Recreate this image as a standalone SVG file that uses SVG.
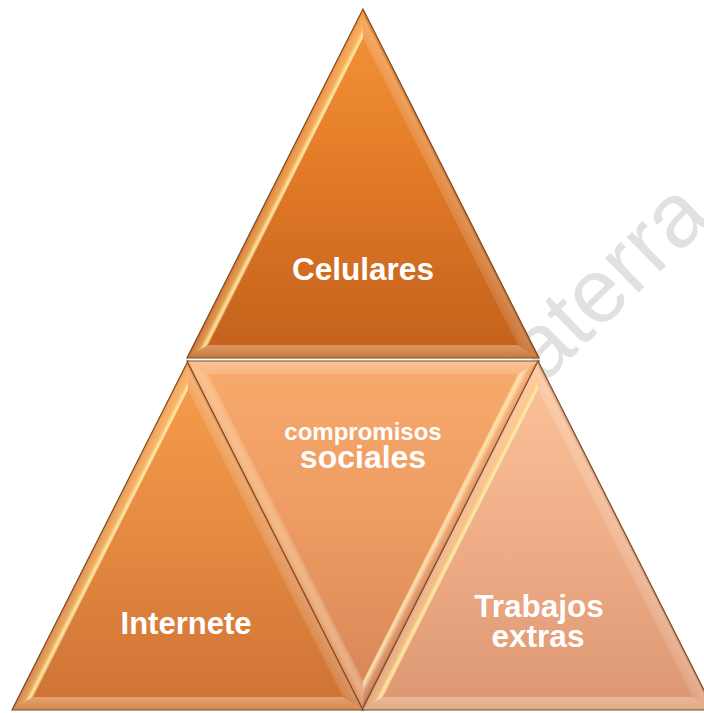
<svg xmlns="http://www.w3.org/2000/svg" xmlns:xlink="http://www.w3.org/1999/xlink" width="704" height="713" viewBox="0 0 704 713">
  <style>
    .lbl { font-family: "Liberation Sans", Arial, sans-serif; font-weight: bold; fill: #ffffff; text-anchor: middle; }
    .edge { fill: none; stroke: #7d4a22; stroke-width: 1.2; stroke-linejoin: miter; }
    .wm { font-family: "Liberation Sans", Arial, sans-serif; fill: #e1e1e1; }
  </style>
  <defs>
    <linearGradient id="gTop" x1="0" y1="0" x2="0" y2="1">
      <stop offset="0" stop-color="#F5953C"/>
      <stop offset="0.45" stop-color="#E27B27"/>
      <stop offset="1" stop-color="#C2601C"/>
    </linearGradient>
    <linearGradient id="gBL" x1="0" y1="0" x2="0" y2="1">
      <stop offset="0" stop-color="#F79E4C"/>
      <stop offset="0.5" stop-color="#E58A42"/>
      <stop offset="1" stop-color="#CD7233"/>
    </linearGradient>
    <linearGradient id="gM" x1="0" y1="0" x2="0" y2="1">
      <stop offset="0" stop-color="#F8AA6C"/>
      <stop offset="0.5" stop-color="#EC9A62"/>
      <stop offset="1" stop-color="#D48458"/>
    </linearGradient>
    <linearGradient id="gBR" x1="0" y1="0" x2="0" y2="1">
      <stop offset="0" stop-color="#FBC49A"/>
      <stop offset="0.5" stop-color="#EFAE88"/>
      <stop offset="1" stop-color="#DC9672"/>
    </linearGradient>

    <!-- bevel face gradients in local coordinates -->
    <linearGradient id="upL" gradientUnits="userSpaceOnUse" x1="-88" y1="174.5" x2="-76.4" y2="180.4">
      <stop offset="0" stop-color="#FFFFFF" stop-opacity="0.05"/>
      <stop offset="0.55" stop-color="#FFD67E" stop-opacity="0.45"/>
      <stop offset="0.85" stop-color="#FFEDB0" stop-opacity="0.95"/>
      <stop offset="1" stop-color="#FFE39A" stop-opacity="0.6"/>
    </linearGradient>
    <linearGradient id="upR" gradientUnits="userSpaceOnUse" x1="88" y1="174.5" x2="76.4" y2="180.4">
      <stop offset="0" stop-color="#7A3F10" stop-opacity="0.25"/>
      <stop offset="0.25" stop-color="#FFFFFF" stop-opacity="0.22"/>
      <stop offset="1" stop-color="#FFFFFF" stop-opacity="0.12"/>
    </linearGradient>
    <linearGradient id="upB" gradientUnits="userSpaceOnUse" x1="0" y1="349" x2="0" y2="336">
      <stop offset="0" stop-color="#FFFFFF" stop-opacity="0.15"/>
      <stop offset="1" stop-color="#FFE6C0" stop-opacity="0.4"/>
    </linearGradient>
    <linearGradient id="dnT" gradientUnits="userSpaceOnUse" x1="0" y1="0" x2="0" y2="13">
      <stop offset="0" stop-color="#FFFFFF" stop-opacity="0.3"/>
      <stop offset="1" stop-color="#FFFFFF" stop-opacity="0.15"/>
    </linearGradient>
    <linearGradient id="dnL" gradientUnits="userSpaceOnUse" x1="-88" y1="174.5" x2="-76.4" y2="168.6">
      <stop offset="0" stop-color="#FFFFFF" stop-opacity="0.1"/>
      <stop offset="0.5" stop-color="#FFE2B0" stop-opacity="0.45"/>
      <stop offset="1" stop-color="#FFFFFF" stop-opacity="0.15"/>
    </linearGradient>
    <linearGradient id="dnR" gradientUnits="userSpaceOnUse" x1="88" y1="174.5" x2="76.4" y2="168.6">
      <stop offset="0" stop-color="#6A3510" stop-opacity="0.3"/>
      <stop offset="0.45" stop-color="#FFFFFF" stop-opacity="0.1"/>
      <stop offset="0.85" stop-color="#FFEDB0" stop-opacity="0.9"/>
      <stop offset="1" stop-color="#FFE39A" stop-opacity="0.5"/>
    </linearGradient>

    <g id="bevelUp">
      <polygon points="0,0 -176,349 -154.9,336 0,28.9" fill="url(#upL)"/>
      <polygon points="0,0 176,349 154.9,336 0,28.9" fill="url(#upR)"/>
      <polygon points="-176,349 176,349 154.9,336 -154.9,336" fill="url(#upB)"/>
      <polygon points="0,0 -176,349 176,349" class="edge"/>
    </g>
    <g id="bevelDn">
      <polygon points="-176,0 176,0 154.9,13 -154.9,13" fill="url(#dnT)"/>
      <polygon points="-176,0 0,349 0,320.1 -154.9,13" fill="url(#dnL)"/>
      <polygon points="176,0 0,349 0,320.1 154.9,13" fill="url(#dnR)"/>
      <polygon points="-176,0 176,0 0,349" class="edge"/>
    </g>
  </defs>

  <rect x="0" y="0" width="704" height="713" fill="#ffffff"/>

  <text class="wm" x="543" y="385" font-size="91" transform="rotate(-44 543 385)">aterra</text>

  <g id="connectors"/>

  <g id="node-celulares">
    <polygon points="363,9 187,358 539,358" fill="url(#gTop)"/>
    <use xlink:href="#bevelUp" transform="translate(363,9)"/>
    <text class="lbl" x="363" y="280" font-size="31.5">Celulares</text>
  </g>

  <g id="node-internete">
    <polygon points="188,361 12,710 364,710" fill="url(#gBL)"/>
    <use xlink:href="#bevelUp" transform="translate(188,361)"/>
    <text class="lbl" x="186" y="634" font-size="31">Internete</text>
  </g>

  <g id="node-compromisos">
    <polygon points="187,361 539,361 363,710" fill="url(#gM)"/>
    <use xlink:href="#bevelDn" transform="translate(363,361)"/>
    <text class="lbl" x="363" y="440" font-size="24">compromisos</text>
    <text class="lbl" x="363" y="468" font-size="32">sociales</text>
  </g>

  <g id="node-trabajos">
    <polygon points="538,361 362,710 714,710" fill="url(#gBR)"/>
    <use xlink:href="#bevelUp" transform="translate(538,361)"/>
    <text class="lbl" x="539" y="617" font-size="31.5">Trabajos</text>
    <text class="lbl" x="538" y="647" font-size="31.5">extras</text>
  </g>
</svg>
